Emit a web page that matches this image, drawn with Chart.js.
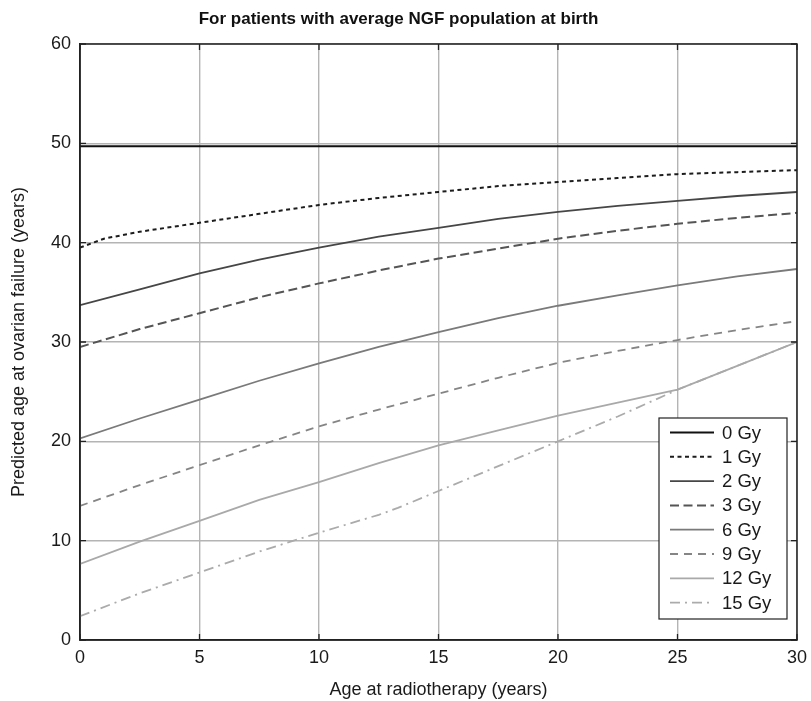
<!DOCTYPE html>
<html>
<head>
<meta charset="utf-8">
<script src="https://cdn.jsdelivr.net/npm/chart.js@4.4.1/dist/chart.umd.min.js"></script>
<style>
  html, body { margin: 0; padding: 0; background: #fff; }
  #wrap { width: 811px; height: 701px; position: relative; }
</style>
</head>
<body>
<div id="wrap"><canvas id="c" width="811" height="701"></canvas></div>
<script>
// ---- data ----
const chartTitle = "For patients with average NGF population at birth";
const xTitle = "Age at radiotherapy (years)";
const yTitle = "Predicted age at ovarian failure (years)";
const seriesLabels = ["0 Gy", "1 Gy", "2 Gy", "3 Gy", "6 Gy", "9 Gy", "12 Gy", "15 Gy"];

const ages      = [0, 2.5, 5, 7.5, 10, 12.5, 15, 17.5, 20, 22.5, 25, 27.5, 30];
const ages1Gy   = [0, 1, 2.5, 5, 7.5, 10, 12.5, 15, 17.5, 20, 22.5, 25, 27.5, 30];
const ages15Gy  = [0, 2.5, 5, 7.5, 10, 12.5, 13.3, 15, 17.5, 20, 22.5, 25, 27.5, 30];

const gy0  = [49.7, 49.7, 49.7, 49.7, 49.7, 49.7, 49.7, 49.7, 49.7, 49.7, 49.7, 49.7, 49.7];
const gy1  = [39.5, 40.4, 41.1, 42.0, 42.9, 43.8, 44.5, 45.1, 45.7, 46.1, 46.5, 46.9, 47.1, 47.3];
const gy2  = [33.7, 35.3, 36.9, 38.3, 39.5, 40.6, 41.5, 42.4, 43.1, 43.7, 44.2, 44.7, 45.1];
const gy3  = [29.5, 31.3, 32.9, 34.5, 35.9, 37.2, 38.4, 39.4, 40.4, 41.2, 41.9, 42.5, 43.0];
const gy6  = [20.3, 22.3, 24.2, 26.1, 27.85, 29.5, 31.0, 32.4, 33.65, 34.7, 35.7, 36.6, 37.35];
const gy9  = [13.5, 15.6, 17.6, 19.6, 21.5, 23.2, 24.8, 26.4, 27.9, 29.1, 30.2, 31.2, 32.1];
const gy12 = [7.65, 9.9, 12.0, 14.1, 15.9, 17.8, 19.6, 21.1, 22.6, 23.9, 25.2, 27.6, 30.0];
const gy15 = [2.4, 4.7, 6.8, 8.9, 10.8, 12.6, 13.3, 15.0, 17.5, 20.0, 22.5, 25.2, 27.6, 30.0];

const xTicks = [0, 5, 10, 15, 20, 25, 30];
const yTicks = [0, 10, 20, 30, 40, 50, 60];

// ---- styling ----
Chart.defaults.font.family = "'Liberation Sans', Arial, Helvetica, sans-serif";
Chart.defaults.color = "#1a1a1a";

const styles = [
  { color: "#111111", dash: [],            width: 2.0 },
  { color: "#1c1c1c", dash: [4, 3.5],      width: 2.0 },
  { color: "#464646", dash: [],            width: 1.8 },
  { color: "#555555", dash: [9, 4.5],      width: 2.0 },
  { color: "#7a7a7a", dash: [],            width: 1.8 },
  { color: "#858585", dash: [8, 6],        width: 1.8 },
  { color: "#a9a9a9", dash: [],            width: 1.8 },
  { color: "#ababab", dash: [10, 5, 2, 5], width: 1.8 }
];

function pts(xs, ys) { return xs.map((x, i) => ({ x: x, y: ys[i] })); }
const seriesData = [
  pts(ages, gy0), pts(ages1Gy, gy1), pts(ages, gy2), pts(ages, gy3),
  pts(ages, gy6), pts(ages, gy9), pts(ages, gy12), pts(ages15Gy, gy15)
];

const datasets = seriesLabels.map((lab, i) => ({
  label: lab,
  data: seriesData[i],
  borderColor: styles[i].color,
  backgroundColor: styles[i].color,
  borderDash: styles[i].dash,
  borderWidth: styles[i].width,
  pointRadius: 0,
  fill: false,
  tension: 0
}));

// frame, inner ticks and boxed legend (MATLAB-like)
const framePlugin = {
  id: "frame",
  afterDatasetsDraw(chart) {
    const ctx = chart.ctx, ca = chart.chartArea;
    const xs = chart.scales.x, ys = chart.scales.y;
    ctx.save();
    ctx.strokeStyle = "#222";
    ctx.lineWidth = 1.5;
    ctx.setLineDash([]);
    ctx.strokeRect(ca.left, ca.top, ca.right - ca.left, ca.bottom - ca.top);
    ctx.lineWidth = 1.3;
    const tl = 6;
    ctx.beginPath();
    xTicks.forEach(v => {
      const px = xs.getPixelForValue(v);
      ctx.moveTo(px, ca.bottom); ctx.lineTo(px, ca.bottom - tl);
      ctx.moveTo(px, ca.top); ctx.lineTo(px, ca.top + tl);
    });
    yTicks.forEach(v => {
      const py = ys.getPixelForValue(v);
      ctx.moveTo(ca.left, py); ctx.lineTo(ca.left + tl, py);
      ctx.moveTo(ca.right, py); ctx.lineTo(ca.right - tl, py);
    });
    ctx.stroke();

    // legend box
    const bw = 128, bh = 201;
    const bx = ca.right - 138, by = ca.bottom - 222;
    ctx.fillStyle = "#fff";
    ctx.fillRect(bx, by, bw, bh);
    ctx.strokeStyle = "#222";
    ctx.lineWidth = 1.2;
    ctx.strokeRect(bx, by, bw, bh);
    ctx.font = "18.5px 'Liberation Sans', Arial, sans-serif";
    ctx.textBaseline = "middle";
    ctx.textAlign = "left";
    chart.data.datasets.forEach((ds, i) => {
      const ry = by + 14.5 + i * 24.3;
      ctx.beginPath();
      ctx.strokeStyle = ds.borderColor;
      ctx.lineWidth = ds.borderWidth;
      ctx.setLineDash(ds.borderDash);
      ctx.moveTo(bx + 11, ry); ctx.lineTo(bx + 55, ry);
      ctx.stroke();
      ctx.setLineDash([]);
      ctx.fillStyle = "#1a1a1a";
      ctx.fillText(ds.label, bx + 63, ry + 1);
    });
    ctx.restore();
  }
};

new Chart(document.getElementById("c"), {
  type: "line",
  data: { datasets: datasets },
  plugins: [framePlugin],
  options: {
    responsive: false,
    animation: false,
    layout: { padding: { left: 0, right: 14, top: 0, bottom: 0 } },
    plugins: {
      legend: { display: false },
      tooltip: { enabled: false },
      title: {
        display: true,
        text: chartTitle,
        fullSize: true,
        color: "#111",
        font: { size: 17, weight: "bold", lineHeight: 1.2 },
        padding: { top: 9, bottom: 14.6 }
      }
    },
    scales: {
      x: {
        type: "linear",
        min: 0, max: 30,
        afterBuildTicks: s => { s.ticks = xTicks.map(v => ({ value: v })); },
        afterFit: s => { s.height = 61; s.paddingLeft = 0; s.paddingRight = 0; },
        ticks: { font: { size: 18 }, color: "#1a1a1a", padding: 7, maxRotation: 0 },
        grid: { color: "#b4b4b4", lineWidth: 1.4, drawTicks: false },
        border: { color: "#222", width: 1.5 },
        title: { display: true, text: xTitle, font: { size: 18 }, color: "#1a1a1a", padding: { top: 4, bottom: 0 } }
      },
      y: {
        type: "linear",
        min: 0, max: 60,
        afterBuildTicks: s => { s.ticks = yTicks.map(v => ({ value: v })); },
        afterFit: s => { s.width = 80; s.paddingTop = 0; s.paddingBottom = 0; },
        ticks: { font: { size: 18 }, color: "#1a1a1a", padding: 9 },
        grid: { color: "#b4b4b4", lineWidth: 1.4, drawTicks: false },
        border: { color: "#222", width: 1.5 },
        title: { display: true, text: yTitle, font: { size: 18 }, color: "#1a1a1a", padding: { top: 8, bottom: 0 } }
      }
    }
  }
});
</script>
</body>
</html>
